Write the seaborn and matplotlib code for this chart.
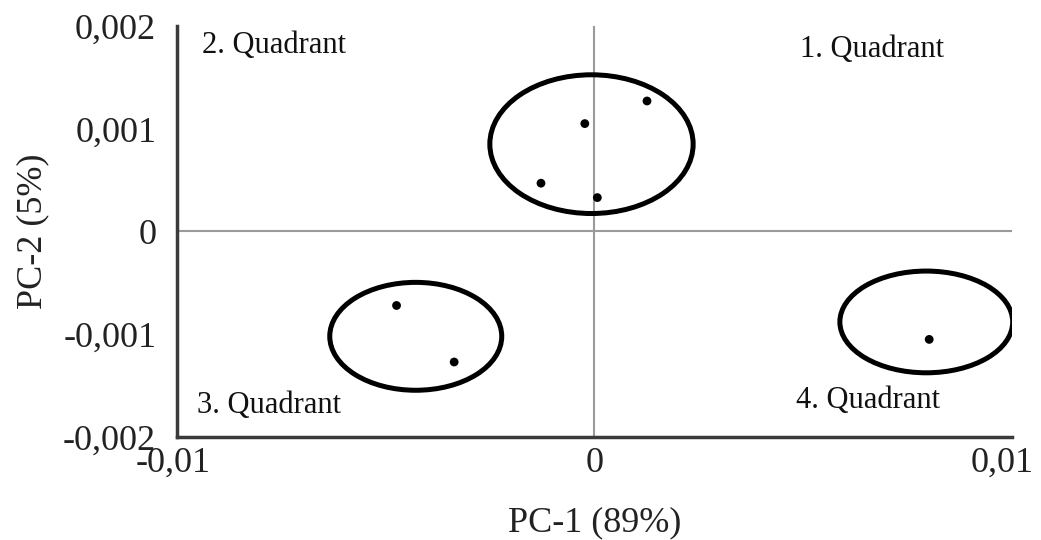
import matplotlib
matplotlib.use("Agg")
import matplotlib.pyplot as plt
from matplotlib.patches import Ellipse
from matplotlib.ticker import FixedLocator, FuncFormatter
from matplotlib.transforms import ScaledTranslation
import seaborn as sns
import pandas as pd

# PCA scores of the samples
pc1_scores = [0.00126, -0.00023, -0.00128, 0.00007, -0.00474, -0.00336, 0.00802]
pc2_scores = [0.00127, 0.00105, 0.00047, 0.00033, -0.00072, -0.00127, -0.00105]

# Cluster ellipses: centre (pc1, pc2), width, height
cluster_x = [-0.00007, -0.00428, 0.00795]
cluster_y = [0.00085, -0.00102, -0.00088]
cluster_w = [0.00487, 0.00412, 0.00414]
cluster_h = [0.00135, 0.00105, 0.00099]

quadrant_labels = ["1. Quadrant", "2. Quadrant", "3. Quadrant", "4. Quadrant"]
x_ticks = [-0.01, 0.0, 0.01]
y_ticks = [-0.002, -0.001, 0.0, 0.001, 0.002]

sns.set_style("white")
plt.rcParams["font.family"] = ["Liberation Serif", "DejaVu Serif"]

fig = plt.figure(figsize=(10.41, 5.40), dpi=100)
ax = fig.add_axes([0.170, 0.1907, 0.802, 0.7612])

df = pd.DataFrame({"PC-1": pc1_scores, "PC-2": pc2_scores})

ax.axhline(0, color="#9a9a9a", lw=1.5, zorder=1)
ax.axvline(0, color="#9a9a9a", lw=1.5, zorder=1)

sns.scatterplot(data=df, x="PC-1", y="PC-2", ax=ax, color="black",
                s=40, edgecolor="none", zorder=3)

for cx, cy, w, h in zip(cluster_x, cluster_y, cluster_w, cluster_h):
    ax.add_patch(Ellipse((cx, cy), w, h, fill=False, edgecolor="black",
                         lw=3.6, zorder=2))

ax.set_xlim(-0.01, 0.01)
ax.set_ylim(-0.002, 0.002)

def comma_fmt(v, pos):
    if abs(v) < 1e-12:
        return "0"
    s = f"{v:.3f}" if abs(v) < 0.005 else f"{v:.2f}"
    return s.replace(".", ",")

ax.xaxis.set_major_locator(FixedLocator(x_ticks))
ax.yaxis.set_major_locator(FixedLocator(y_ticks))
ax.xaxis.set_minor_locator(FixedLocator([-0.005, 0.005]))
ax.yaxis.set_minor_locator(FixedLocator([-0.0015, -0.0005, 0.0005, 0.0015]))
ax.xaxis.set_major_formatter(FuncFormatter(comma_fmt))
ax.yaxis.set_major_formatter(FuncFormatter(comma_fmt))

for side in ["top", "right"]:
    ax.spines[side].set_visible(False)
for side in ["left", "bottom"]:
    ax.spines[side].set_color("#3a3a3a")
    ax.spines[side].set_linewidth(2.5)

ax.tick_params(axis="both", which="both", direction="out", length=4,
               width=2, color="#555555", labelsize=26, labelcolor="#222222")
ax.tick_params(axis="y", pad=11)
ax.tick_params(axis="x", pad=3)

# keep the outer x tick labels inside the canvas
major_x = ax.xaxis.get_major_ticks()
for tick, dx in ((major_x[0], -3), (major_x[-1], -7)):
    lbl = tick.label1
    lbl.set_transform(lbl.get_transform() + ScaledTranslation(dx / 72, 0, fig.dpi_scale_trans))

ax.set_xlabel("PC-1 (89%)", fontsize=26, color="#222222", labelpad=19)
ax.set_ylabel("PC-2 (5%)", fontsize=26, color="#222222", labelpad=10)

label_pos = [(0.00492, 0.00170), (-0.00940, 0.00174), (-0.00953, -0.00177), (0.00484, -0.00172)]
for (tx, ty), txt in zip(label_pos, quadrant_labels):
    ax.text(tx, ty, txt, fontsize=22, color="#111111", va="baseline", ha="left")

fig.savefig("out.png", dpi=100)
